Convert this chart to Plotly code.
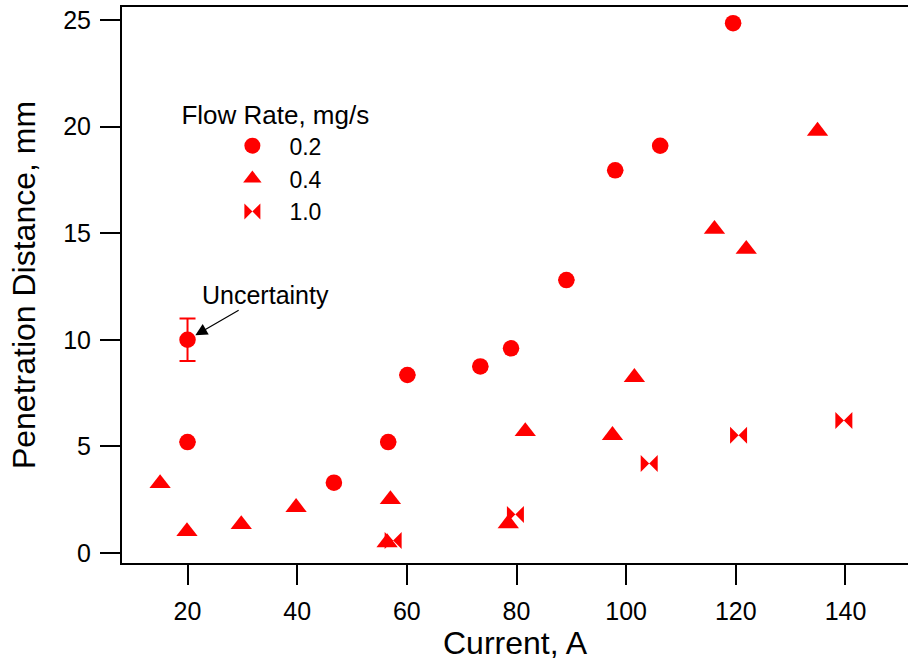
import plotly.graph_objects as go

# ---- data ----
circ_x = [20, 20, 46.7, 56.6, 60.1, 73.4, 79.0, 89.1, 98.0, 106.2, 119.5]
circ_y = [10.0, 5.2, 3.3, 5.2, 8.35, 8.75, 9.6, 12.8, 17.95, 19.1, 24.85]
circ_err = [1.0, None, None, None, None, None, None, None, None, None, None]

tri_x = [15.0, 19.9, 29.8, 39.8, 56.4, 57.0, 78.5, 81.6, 97.5, 101.5, 116.1, 121.9, 134.9]
tri_y = [3.26, 1.01, 1.34, 2.14, 0.49, 2.51, 1.38, 5.7, 5.52, 8.24, 15.19, 14.25, 19.79]

bow_x = [57.5, 79.8, 104.2, 120.5, 139.7]
bow_y = [0.59, 1.81, 4.2, 5.52, 6.22]

series_names = ["0.2", "0.4", "1.0"]
x_ticks = [20, 40, 60, 80, 100, 120, 140]
y_ticks = [0, 5, 10, 15, 20, 25]

RED = "#ff0000"
FONT = "Liberation Sans, Arial, Helvetica, sans-serif"

fig = go.Figure()
fig.add_trace(go.Scatter(
    x=circ_x, y=circ_y, mode="markers", name=series_names[0], legendgroup="a",
    marker=dict(symbol="circle", size=16.5, color=RED, line=dict(width=0)),
    error_y=dict(type="data", array=circ_err, visible=True, color=RED,
                 thickness=2, width=8),
))
fig.add_trace(go.Scatter(
    x=tri_x, y=tri_y, mode="markers", name=series_names[1], legendgroup="b",
    marker=dict(symbol="triangle-up", size=18.5, color=RED, line=dict(width=0)),
))
fig.add_trace(go.Scatter(
    x=bow_x, y=bow_y, mode="markers", name=series_names[2], legendgroup="c",
    marker=dict(symbol="bowtie", size=17, color=RED, line=dict(width=0)),
))

fig.add_annotation(
    x=20, y=10, xref="x", yref="y", text="Uncertainty",
    showarrow=True, ax=78, ay=-45, standoff=9,
    arrowhead=2, arrowsize=2, arrowwidth=1.2, arrowcolor="black",
    font=dict(family=FONT, size=25, color="black"),
)

fig.update_layout(
    width=908, height=664,
    margin=dict(l=122, r=0, t=7, b=101, pad=0),
    paper_bgcolor="white", plot_bgcolor="white",
    font=dict(family=FONT, color="black"),
    showlegend=True,
    legend=dict(
        x=0.073, y=0.85, xanchor="left", yanchor="top",
        title=dict(text="Flow Rate, mg/s", font=dict(size=26)),
        font=dict(size=23), bgcolor="rgba(0,0,0,0)",
        itemwidth=64, indentation=36, tracegroupgap=0,
    ),
    xaxis=dict(
        range=[8.05, 151.4], tickvals=x_ticks, ticktext=[str(v) for v in x_ticks],
        showgrid=False, zeroline=False, showline=True, linecolor="black", linewidth=2,
        mirror=True, ticks="outside", ticklen=20, tickwidth=2, tickcolor="black",
        tickfont=dict(size=25), ticklabelstandoff=5, automargin=False,
        title=dict(text="Current, A", font=dict(size=32), standoff=0),
    ),
    yaxis=dict(
        range=[-0.47, 25.61], tickvals=y_ticks, ticktext=[str(v) for v in y_ticks],
        showgrid=False, zeroline=False, showline=True, linecolor="black", linewidth=2,
        mirror=False, ticks="outside", ticklen=20, tickwidth=2, tickcolor="black",
        tickfont=dict(size=25), ticklabelstandoff=4, automargin=False,
        title=dict(text="Penetration Distance, mm", font=dict(size=32), standoff=18),
    ),
)

fig.write_html(
    "out.html",
    config={"displayModeBar": False},
    post_script="document.body.style.margin='0';document.body.style.overflow='hidden';",
)
